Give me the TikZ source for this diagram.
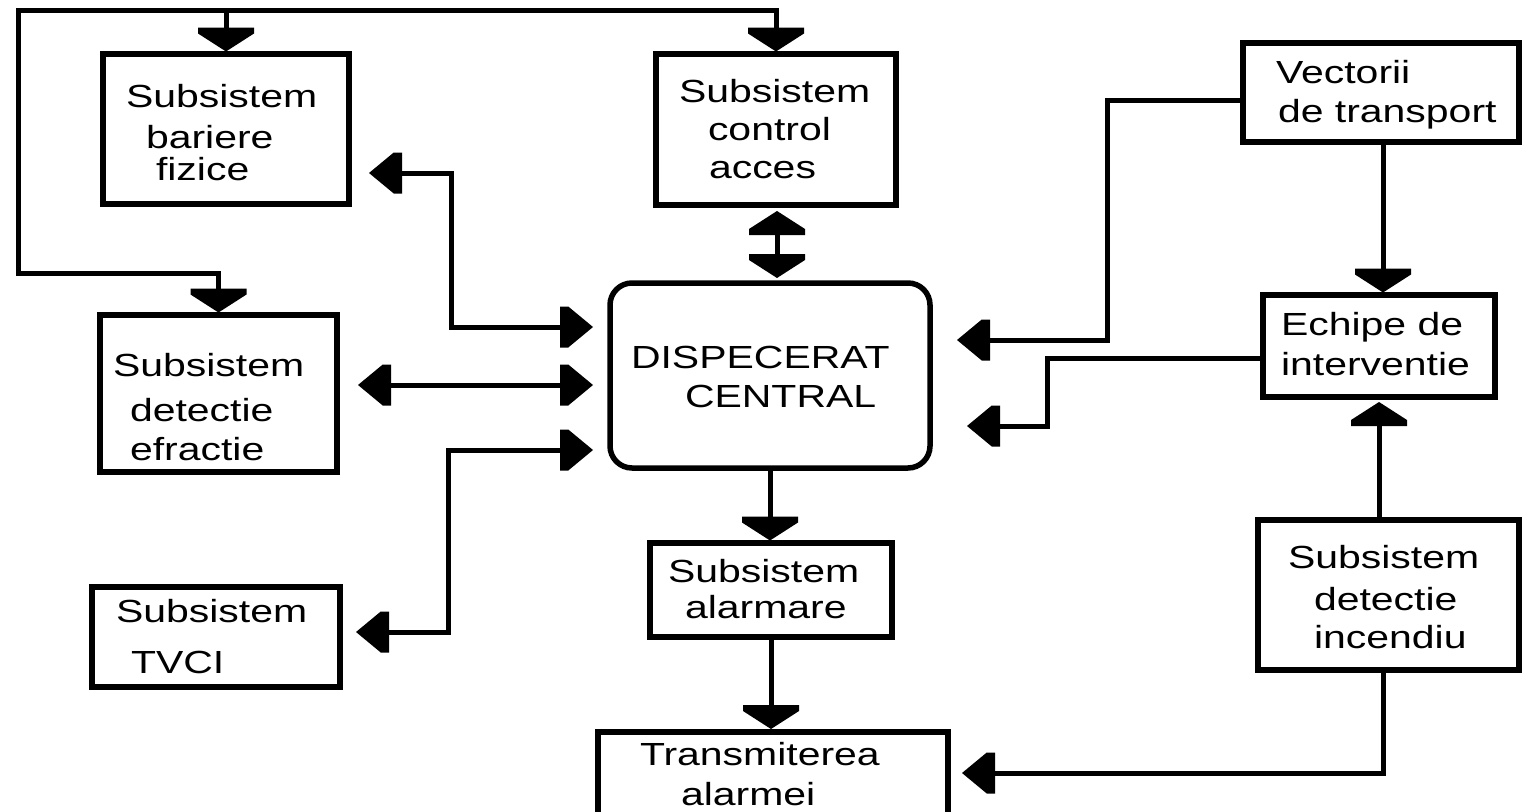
\documentclass[tikz,border=0pt]{standalone}
\usepackage{fontspec}
\setmainfont{Liberation Sans}[FakeStretch=1.28]
\usetikzlibrary{arrows.meta}
\setlength{\unitlength}{1pt}

% block arrow head: flat shoulders at the back, then a triangle
\pgfdeclarearrow{
  name = Blk,
  parameters = {\the\pgfarrowlength,\the\pgfarrowwidth},
  setup code = {
    \pgfarrowssettipend{\pgfarrowlength}
    \pgfarrowssetlineend{.5\pgfarrowlength}
    \pgfarrowssavethe\pgfarrowlength
    \pgfarrowssavethe\pgfarrowwidth
  },
  drawing code = {
    \pgfpathmoveto{\pgfqpoint{\pgfarrowlength}{0pt}}
    \pgfpathlineto{\pgfqpoint{.25\pgfarrowlength}{.5\pgfarrowwidth}}
    \pgfpathlineto{\pgfqpoint{0pt}{.5\pgfarrowwidth}}
    \pgfpathlineto{\pgfqpoint{0pt}{-.5\pgfarrowwidth}}
    \pgfpathlineto{\pgfqpoint{.25\pgfarrowlength}{-.5\pgfarrowwidth}}
    \pgfpathclose
    \pgfusepathqfill
  },
  defaults = {length = 24pt, width = 56pt}
}

% box contents: text lines placed by baseline inside a w x h frame
\newcommand\boxtext[3]{\begin{picture}(#1,#2)#3\end{picture}}

\tikzset{
  blk/.style={draw, line width=5.5pt, inner sep=0pt, outer sep=0pt,
              font=\fontsize{32}{36}\selectfont},
  wire/.style={line width=5pt},
  varr/.style={wire, >={Blk[length=24pt,width=56pt]}, ->},
  vdbl/.style={wire, >={Blk[length=24pt,width=56pt]}, <->},
  harr/.style={wire, >={Blk[length=33pt,width=41pt]}, ->},
  hdbl/.style={wire, >={Blk[length=33pt,width=41pt]}, <->},
}

\begin{document}
\begin{tikzpicture}[x=1pt, y=-1pt]
\useasboundingbox (0,0) rectangle (1522,811);
\fill[white] (0,0) rectangle (1522,811);
\clip (0,0) rectangle (1522,811);

% boxes
\node[blk] (bar) at (226,129)
  {\boxtext{246}{150}{\put(23,97){Subsistem}\put(43,56){bariere}\put(53,24){fizice}}};
\node[blk] (ctl) at (776,129.5)
  {\boxtext{240}{151}{\put(23,103){Subsistem}\put(52,65){control}\put(53,27){acces}}};
\node[blk] (vec) at (1381,92.5)
  {\boxtext{276}{99}{\put(33,59){Vectorii}\put(35,20){de transport}}};
\node[blk] (ech) at (1379,346)
  {\boxtext{232}{102}{\put(18,62){Echipe de}\put(18,22){interventie}}};
\node[blk] (efr) at (218.5,393.5)
  {\boxtext{237}{157}{\put(13,96){Subsistem}\put(30,51){detectie}\put(30,12){efractie}}};
\node[blk] (tvc) at (216,637)
  {\boxtext{248}{100}{\put(24,65){Subsistem}\put(39,14){TVCI}}};
\node[blk, rounded corners=22pt] (disp) at (770,375.5)
  {\boxtext{320}{185}{\put(21,100){DISPECERAT}\put(75,61){CENTRAL}}};
\node[blk] (alm) at (771,590)
  {\boxtext{242}{94}{\put(18,55){Subsistem}\put(35,19){alarmare}}};
\node[blk] (trn) at (773,781)
  {\boxtext{350}{98}{\put(42,65){Transmiterea}\put(83,25){alarmei}}};
\node[blk] (inc) at (1388.5,595)
  {\boxtext{261}{150}{\put(30,102){Subsistem}\put(56,60){detectie}\put(56,22){incendiu}}};

% bends of the supply loop on the left
\coordinate (loopNW) at (18,10);
\coordinate (loopSW) at (18,273);

% supply loop feeding the three upper subsystems
\draw[vdbl, shorten <=2.5pt, shorten >=2.5pt]
  (efr.north) |- (loopSW) -- (loopNW) -| (ctl.north);
\draw[varr, shorten >=2.5pt] (bar.north |- loopNW) -- (bar.north);

% links to the central dispatch
\draw[hdbl, shorten <=20pt, shorten >=17pt]
  (bar.east |- 0,173) -- (451,173) |- (disp.west |- 0,327);
\draw[hdbl, shorten <=21pt, shorten >=17pt]
  (efr.east |- 0,385) -- (disp.west |- 0,385);
\draw[hdbl, shorten <=16pt, shorten >=17pt]
  (tvc.east |- 0,632) -- (448,632) |- (disp.west |- 0,450);
\draw[vdbl, shorten <=6pt, shorten >=5pt]
  ([xshift=1pt]ctl.south) -- ([xshift=1pt]ctl.south |- disp.north);

% alarm chain
\draw[varr, shorten >=2.5pt] (disp.south) -- (disp.south |- alm.north);
\draw[varr, shorten >=3pt] (alm.south) -- (alm.south |- trn.north);

% right-hand side
\draw[harr, shorten >=27pt]
  (vec.west |- 0,100) -- (1107,100) |- (disp.east |- 0,340);
\draw[harr, shorten >=37pt]
  (ech.west |- 0,358) -- (1047,358) |- (disp.east |- 0,426);
\draw[varr, shorten >=2.5pt] (vec.south -| 1383,0) -- (ech.north -| 1383,0);
\draw[varr, shorten >=5pt] (inc.north -| ech.south) -- (ech.south);
\draw[harr, shorten >=14pt]
  (inc.south -| 1383,0) |- (trn.east |- 0,773);
\end{tikzpicture}
\end{document}
